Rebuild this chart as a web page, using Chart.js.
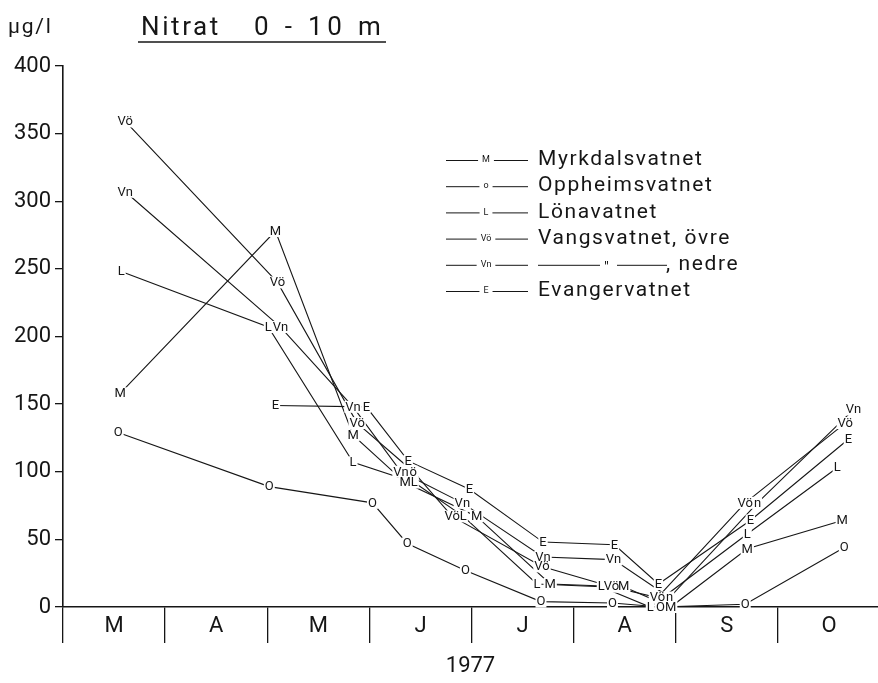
<!DOCTYPE html>
<html>
<head>
<meta charset="utf-8">
<title>Nitrat 0 - 10 m</title>
<script src="https://cdn.jsdelivr.net/npm/chart.js@4.4.1/dist/chart.umd.min.js"></script>
<style>
  html, body { margin: 0; padding: 0; background: #fff; }
  #wrap { width: 878px; height: 683px; }
</style>
</head>
<body>
<div id="wrap"><canvas id="nitratChart" width="878" height="683"></canvas></div>
<script>
const months = ['M', 'A', 'M', 'J', 'J', 'A', 'S', 'O'];
const yMax = 400;
const yStep = 50;

// sampling times in months counted from 1 March 1977, nitrate in µg/l
const myrkdalT = [0.56, 2.08, 2.84, 3.35, 4.05, 4.77, 5.49, 5.95, 6.70, 7.63];
const myrkdalN = [158, 278, 127, 92, 67, 17, 15, 0, 43, 64];
const oppheimT = [0.54, 2.02, 3.03, 3.37, 3.94, 4.68, 5.38, 5.85, 6.68, 7.65];
const oppheimN = [129, 89, 77, 47, 27, 4, 3, 0, 2, 44];
const lonaT = [0.57, 2.01, 2.84, 3.44, 3.92, 4.64, 5.27, 5.75, 6.70, 7.58];
const lonaN = [248, 207, 107, 92, 67, 17, 15, 0, 54, 103];
const vangOvreT = [0.61, 2.10, 2.88, 3.43, 3.81, 4.69, 5.37, 5.82, 6.68, 7.66];
const vangOvreN = [359, 240, 136, 100, 67, 30, 15, 7, 77, 136];
const vangNedreT = [0.61, 2.13, 2.84, 3.31, 3.91, 4.70, 5.39, 5.94, 6.80, 7.74];
const vangNedreN = [307, 207, 148, 100, 77, 37, 35, 7, 77, 146];
const evangerT = [2.08, 2.97, 3.38, 3.98, 4.70, 5.40, 5.83, 6.73, 7.69];
const evangerN = [149, 148, 108, 87, 48, 46, 17, 64, 124];

const ink = '#161616';
const font = 'Roboto, "DejaVu Sans", sans-serif';

function points(t, n) {
    return t.map((x, i) => ({ x: x, y: n[i] }));
}

function series(label, mark, t, n, extra) {
    return Object.assign({
        label: label,
        mark: mark,
        data: points(t, n),
        showLine: true,
        borderColor: ink,
        borderWidth: 1.1,
        pointRadius: 0,
        pointHoverRadius: 0,
        clip: false
    }, extra || {});
}

// text with extra tracking, like the lettering stencil
function spaced(ctx, txt, x, y, gap) {
    if ('letterSpacing' in ctx) {
        ctx.letterSpacing = gap + 'px';
        ctx.fillText(txt, x, y);
        ctx.letterSpacing = '0px';
        return;
    }
    for (const ch of txt) {
        ctx.fillText(ch, x, y);
        x += ctx.measureText(ch).width + gap;
    }
}

// letters used as point markers, drawn over all lines:
// first clear a small box under every letter, then write the letters
const letterMarks = {
    id: 'letterMarks',
    afterDatasetsDraw(chart) {
        const ctx = chart.ctx;
        const marks = [];
        ctx.save();
        ctx.font = '13px ' + font;
        ctx.textAlign = 'center';
        ctx.textBaseline = 'middle';
        chart.data.datasets.forEach((ds, i) => {
            chart.getDatasetMeta(i).data.forEach((pt, j) => {
                const txt = (ds.marks && ds.marks[j]) || ds.mark;
                marks.push({ txt: txt, x: pt.x, y: pt.y, w: ctx.measureText(txt).width + 2 });
            });
        });
        ctx.fillStyle = '#fff';
        marks.forEach(m => ctx.fillRect(m.x - m.w / 2, m.y - 6, m.w, 12));
        ctx.fillStyle = ink;
        marks.forEach(m => ctx.fillText(m.txt, m.x, m.y + 0.5));
        ctx.restore();
    }
};

// heading, unit and the key to the lakes
const sheetText = {
    id: 'sheetText',
    afterDraw(chart) {
        const ctx = chart.ctx;
        ctx.save();
        ctx.fillStyle = ink;
        ctx.strokeStyle = ink;
        ctx.textBaseline = 'middle';
        ctx.textAlign = 'left';

        ctx.font = '21px ' + font;
        spaced(ctx, 'µg/l', 8, 28, 1.8);

        ctx.font = '26px ' + font;
        spaced(ctx, 'Nitrat', 141, 28, 2.6);
        spaced(ctx, '0 - 10 m', 254, 28, 4.8);
        ctx.lineWidth = 1.5;
        ctx.beginPath();
        ctx.moveTo(138, 42);
        ctx.lineTo(386, 42);
        ctx.stroke();

        const rowY0 = 160, rowGap = 26.2;
        ctx.lineWidth = 1;
        chart.data.datasets.forEach((ds, i) => {
            const y = rowY0 + i * rowGap;
            const mx = 486;
            ctx.font = '9px ' + font;
            ctx.textAlign = 'center';
            const mw = ctx.measureText(ds.mark).width;
            ctx.beginPath();
            ctx.moveTo(446, y + 0.5);
            ctx.lineTo(mx - mw / 2 - 4, y + 0.5);
            ctx.moveTo(mx + mw / 2 + 4, y + 0.5);
            ctx.lineTo(528, y + 0.5);
            ctx.stroke();
            ctx.fillText(ds.mark, mx, y);

            ctx.font = '21px ' + font;
            ctx.textAlign = 'left';
            if (ds.ditto) {
                ctx.beginPath();
                ctx.moveTo(538, y + 0.5);
                ctx.lineTo(600, y + 0.5);
                ctx.moveTo(617, y + 0.5);
                ctx.lineTo(667, y + 0.5);
                ctx.stroke();
                ctx.font = '15px ' + font;
                ctx.fillText('"', 604, y + 3);
                ctx.font = '21px ' + font;
                spaced(ctx, ', nedre', 666, y, 1.6);
            } else {
                spaced(ctx, ds.label, 538, y, 1.6);
            }
        });
        ctx.restore();
    }
};

new Chart(document.getElementById('nitratChart'), {
    type: 'scatter',
    data: {
        datasets: [
            series('Myrkdalsvatnet', 'M', myrkdalT, myrkdalN),
            series('Oppheimsvatnet', 'o', oppheimT, oppheimN, { marks: ['O', 'O', 'O', 'O', 'O', 'O', 'O', 'O', 'O', 'O'] }),
            series('Lönavatnet', 'L', lonaT, lonaN),
            series('Vangsvatnet, övre', 'Vö', vangOvreT, vangOvreN, { marks: [null, null, null, 'ö'] }),
            series('Vangsvatnet, nedre', 'Vn', vangNedreT, vangNedreN, { ditto: true, marks: [null, null, null, null, null, null, null, 'n', 'n'] }),
            series('Evangervatnet', 'E', evangerT, evangerN)
        ]
    },
    options: {
        responsive: false,
        animation: false,
        events: [],
        layout: { padding: { top: 66, right: 0, left: 0, bottom: 0 } },
        plugins: {
            legend: { display: false },
            tooltip: { enabled: false }
        },
        scales: {
            x: {
                type: 'linear',
                min: 0,
                max: 7.98,
                afterFit: s => { s.height = 76; },
                afterBuildTicks: s => {
                    const ticks = [];
                    for (let m = 0; m < months.length; m++) {
                        ticks.push({ value: m });
                        ticks.push({ value: m + 0.5 });
                    }
                    s.ticks = ticks;
                },
                border: { display: true, color: ink, width: 1.6 },
                grid: {
                    drawOnChartArea: false,
                    drawTicks: true,
                    tickLength: 36,
                    lineWidth: 1.3,
                    color: c => (c.tick && Number.isInteger(c.tick.value)) ? ink : 'rgba(0,0,0,0)'
                },
                ticks: {
                    autoSkip: false,
                    maxRotation: 0,
                    padding: -30,
                    color: ink,
                    font: { family: font, size: 22 },
                    callback: v => Number.isInteger(v) ? '' : months[Math.floor(v)]
                },
                title: {
                    display: true,
                    text: '1977',
                    color: ink,
                    font: { family: font, size: 22 },
                    padding: { top: 0, bottom: 3 }
                }
            },
            y: {
                min: 0,
                max: yMax,
                afterFit: s => { s.width = 63; },
                border: { display: true, color: ink, width: 1.6 },
                grid: {
                    drawOnChartArea: false,
                    drawTicks: true,
                    tickLength: 8,
                    lineWidth: 1.3,
                    color: ink
                },
                ticks: {
                    stepSize: yStep,
                    padding: 4,
                    color: ink,
                    font: { family: font, size: 22 }
                }
            }
        }
    },
    plugins: [letterMarks, sheetText]
});
</script>
</body>
</html>
